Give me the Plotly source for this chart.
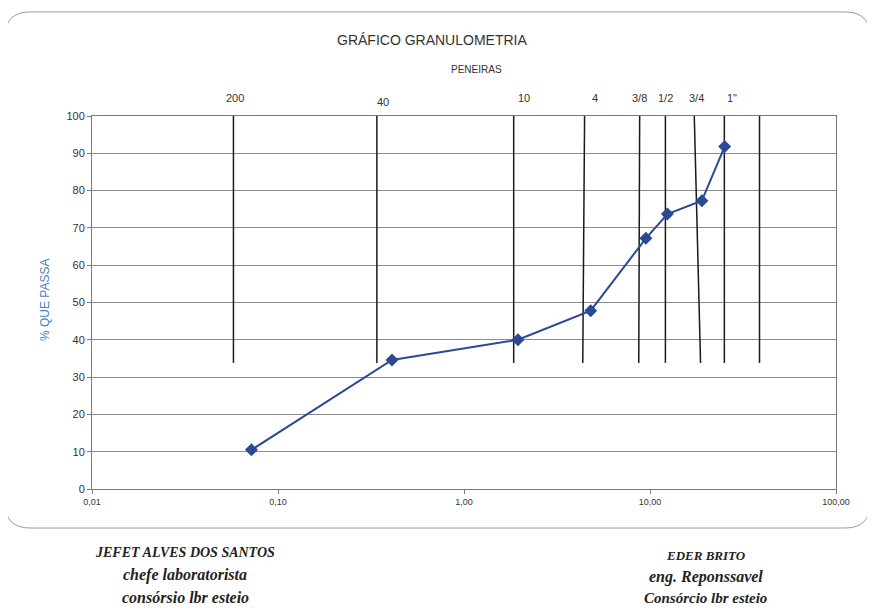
import math
import plotly.graph_objects as go

# Grain size curve (mm vs % passing)
diametro_mm = [0.072, 0.41, 1.95, 4.8, 9.5, 12.4, 19.0, 25.2]
pct_passa = [10.5, 34.6, 40.0, 47.8, 67.2, 73.7, 77.3, 91.8]

# Sieve marker lines (x at bottom / top, scanned so a bit slanted)
peneira_nomes = ["200", "40", "10", "4", "3/8", "1/2", "3/4", '1"', ""]
peneira_x_base = [0.0576, 0.340, 1.85, 4.35, 8.7, 12.1, 18.7, 25.1, 38.8]
peneira_x_topo = [0.0576, 0.340, 1.85, 4.45, 8.8, 12.1, 17.3, 25.1, 38.8]
peneira_y = [33.8, 100]

x_tickvals = [0.01, 0.1, 1, 10, 100]
x_ticktext = ["0,01", "0,10", "1,00", "10,00", "100,00"]

FONT = "Liberation Sans, Arial, sans-serif"
SERIF = "Liberation Serif, Times New Roman, serif"

fig = go.Figure()

for xb, xt in zip(peneira_x_base, peneira_x_topo):
    fig.add_trace(go.Scatter(
        x=[xb, xt], y=peneira_y, mode="lines",
        line=dict(color="#1a1a1a", width=1.5),
        showlegend=False, hoverinfo="skip",
    ))

fig.add_trace(go.Scatter(
    x=diametro_mm, y=pct_passa, mode="lines+markers",
    line=dict(color="#2b4a95", width=2),
    marker=dict(symbol="diamond", size=10, color="#2b4a95"),
    showlegend=False,
))

# sieve names above the lines
label_shift = [2, 6, 10, 10, 0, 0, 2, 8, 0]
for name, xt, dx in zip(peneira_nomes, peneira_x_topo, label_shift):
    if not name:
        continue
    fig.add_annotation(
        x=math.log10(xt), y=1.048 if name != "40" else 1.037, yref="paper",
        text=name, showarrow=False, xshift=dx, yanchor="middle",
        font=dict(family=FONT, size=11, color="#333"),
    )

txt = dict(xref="paper", yref="paper", showarrow=False, xanchor="center", yanchor="middle")
fig.add_annotation(x=0.457, y=1.204, text="GRÁFICO GRANULOMETRIA",
                   font=dict(family=FONT, size=14, color="#333"), **txt)
fig.add_annotation(x=0.517, y=1.126, text="PENEIRAS",
                   font=dict(family=FONT, size=10, color="#333"), **txt)
fig.add_annotation(x=-0.063, y=0.507, text="% QUE PASSA", textangle=-90,
                   font=dict(family=FONT, size=12, color="#4a7fc4"), **txt)

# signatures
fig.add_annotation(x=0.125, y=-0.169, text="<b><i>JEFET ALVES DOS SANTOS</i></b>",
                   font=dict(family=SERIF, size=14, color="#222"), **txt)
fig.add_annotation(x=0.125, y=-0.231, text="<b><i>chefe laboratorista</i></b>",
                   font=dict(family=SERIF, size=16, color="#222"), **txt)
fig.add_annotation(x=0.125, y=-0.290, text="<b><i>consórsio lbr esteio</i></b>",
                   font=dict(family=SERIF, size=16, color="#222"), **txt)
fig.add_annotation(x=0.825, y=-0.177, text="<b><i>EDER BRITO</i></b>",
                   font=dict(family=SERIF, size=13, color="#222"), **txt)
fig.add_annotation(x=0.825, y=-0.236, text="<b><i>eng. Reponssavel</i></b>",
                   font=dict(family=SERIF, size=16, color="#222"), **txt)
fig.add_annotation(x=0.825, y=-0.292, text="<b><i>Consórcio lbr esteio</i></b>",
                   font=dict(family=SERIF, size=15, color="#222"), **txt)

# rounded frame around the chart
x0, x1, y0, y1, rx, ry = -0.117, 1.046, -0.1046, 1.279, 0.034, 0.067
frame = (f"M {x0+rx},{y1} L {x1-rx},{y1} Q {x1},{y1} {x1},{y1-ry} "
         f"L {x1},{y0+ry} Q {x1},{y0} {x1-rx},{y0} L {x0+rx},{y0} "
         f"Q {x0},{y0} {x0},{y0+ry} L {x0},{y1-ry} Q {x0},{y1} {x0+rx},{y1} Z")
fig.add_shape(type="path", path=frame, xref="paper", yref="paper",
              line=dict(color="#9a9a9a", width=1))

fig.update_xaxes(
    type="log", range=[-2, 2], tickvals=x_tickvals, ticktext=x_ticktext,
    showgrid=False, showline=True, mirror=True, linecolor="#7a7a7a", linewidth=1,
    ticks="outside", ticklen=4, tickcolor="#7a7a7a",
    tickfont=dict(family=FONT, size=9, color="#333"), zeroline=False,
)
fig.update_yaxes(
    range=[0, 100], dtick=10, showgrid=True, gridcolor="#8c8c8c", gridwidth=1,
    showline=True, mirror=True, linecolor="#7a7a7a", linewidth=1,
    ticks="outside", ticklen=4, tickcolor="#7a7a7a",
    tickfont=dict(family=FONT, size=11, color="#333"), zeroline=False,
)

# page body has an 8px margin, so the figure is sized to fit inside it
fig.update_layout(
    width=867, height=600,
    margin=dict(l=84, r=39, t=108, b=119),
    paper_bgcolor="white", plot_bgcolor="white",
    showlegend=False,
)

fig.write_html("out.html")
